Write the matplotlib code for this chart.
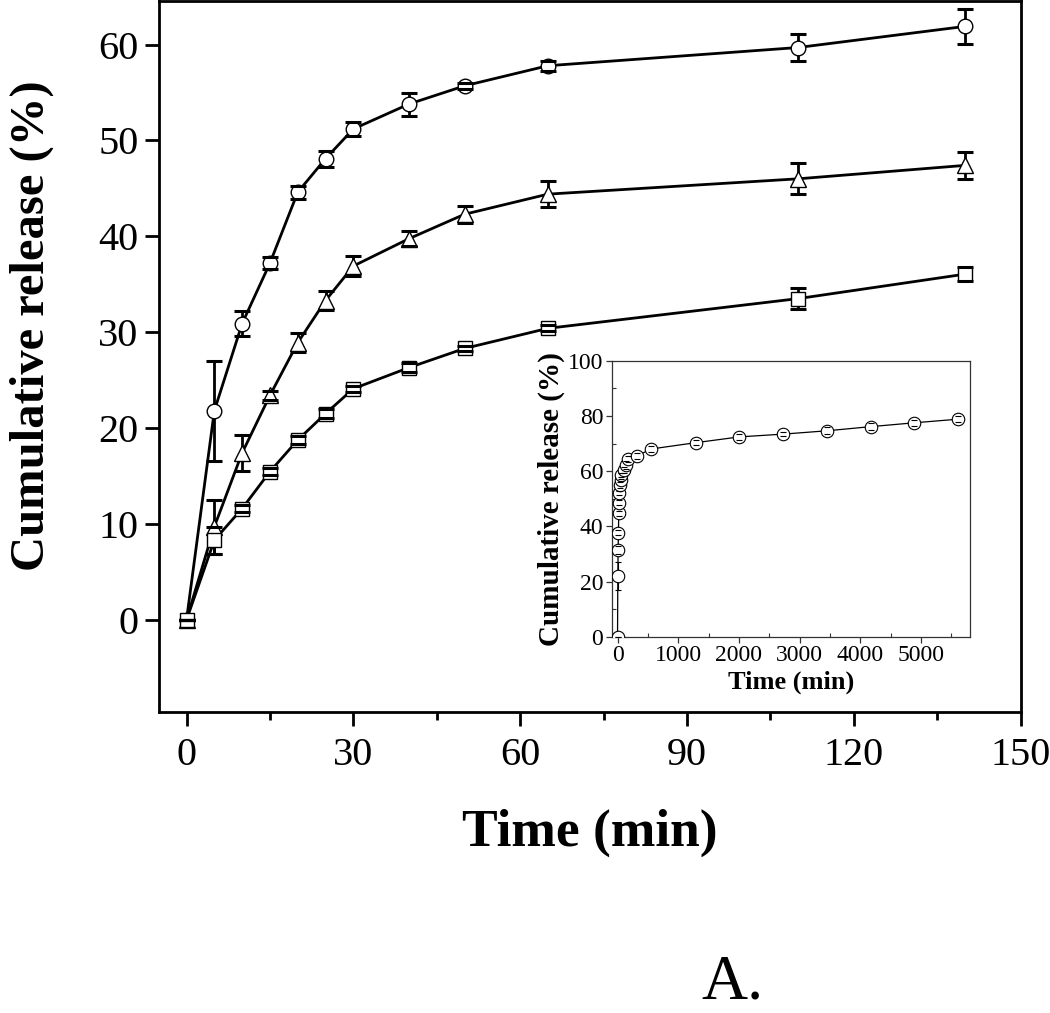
import matplotlib
matplotlib.use("Agg")
import matplotlib.pyplot as plt
from matplotlib.ticker import MultipleLocator

plt.rcParams['font.family'] = ['Liberation Serif', 'DejaVu Serif']

# ---- main panel data ----
time_min = [0, 5, 10, 15, 20, 25, 30, 40, 50, 65, 110, 140]
circle_vals = [0, 21.8, 30.9, 37.2, 44.6, 48.1, 51.2, 53.8, 55.7, 57.8, 59.7, 61.9]
circle_err = [0, 5.2, 1.35, 0.6, 0.7, 0.85, 0.75, 1.2, 0.3, 0.5, 1.45, 1.8]
triangle_vals = [0, 9.7, 17.4, 23.4, 28.9, 33.3, 36.9, 39.75, 42.3, 44.4, 46.0, 47.4]
triangle_err = [0, 2.8, 1.9, 0.5, 1.0, 0.95, 1.0, 0.8, 0.9, 1.35, 1.6, 1.4]
square_vals = [0, 8.3, 11.6, 15.45, 18.75, 21.5, 24.1, 26.3, 28.3, 30.4, 33.5, 36.05]
square_err = [0, 1.4, 0.4, 0.4, 0.4, 0.5, 0.3, 0.5, 0.3, 0.3, 1.1, 0.7]

x_ticks = [0, 30, 60, 90, 120, 150]
y_ticks = [0, 10, 20, 30, 40, 50, 60]

# ---- inset data ----
inset_time = [0, 5, 10, 15, 20, 25, 30, 40, 50, 65, 110, 140,
              180, 320, 550, 1290, 2010, 2730, 3450, 4170, 4890, 5610]
inset_vals = [0, 22.0, 31.4, 37.7, 44.7, 48.6, 52.0, 55.0, 56.8, 58.6, 60.4, 62.2,
              64.3, 65.5, 68.0, 70.3, 72.4, 73.4, 74.6, 76.1, 77.5, 78.8]
inset_err = [0, 5.2, 1.5, 1.0, 1.0, 0.8, 0.8, 1.0, 0.5, 0.6, 1.2, 1.5,
             1.0, 1.0, 1.2, 1.0, 1.0, 0.8, 1.2, 1.2, 1.0, 1.0]
inset_xticks = [0, 1000, 2000, 3000, 4000, 5000]
inset_yticks = [0, 20, 40, 60, 80, 100]

fig = plt.figure(figsize=(10.5, 10.13), dpi=100)
W, H = 1050, 1013

def px_axes(l, t, r, b):
    return [l / W, 1 - b / H, (r - l) / W, (b - t) / H]

ax = fig.add_axes(px_axes(159.3, 1.5, 1020.5, 711.7))

series = [
    (circle_vals, circle_err, 'o', 10.5),
    (triangle_vals, triangle_err, '^', 12),
    (square_vals, square_err, 's', 9.5),
]
for vals, err, mk, ms in series:
    ax.plot(time_min, vals, color='black', lw=2.0, zorder=2)
    ax.plot(time_min, vals, linestyle='none', marker=mk, ms=ms,
            mfc='white', mec='black', mew=1.0, zorder=3)
    _, caps, bars = ax.errorbar(time_min, vals, yerr=err, fmt='none',
                                ecolor='black', elinewidth=2.0,
                                capsize=5.5, capthick=2.2)
    for b in bars:
        b.set_zorder(2.5)
    for c in caps:
        c.set_zorder(4)

ax.set_xlim(-4.9, 150)
ax.set_ylim(-9.6, 64.5)
ax.set_xticks(x_ticks)
ax.set_yticks(y_ticks)
ax.xaxis.set_minor_locator(MultipleLocator(15))
for s in ax.spines.values():
    s.set_linewidth(2.0)
ax.tick_params(axis='both', which='major', direction='out', length=10, width=2.0)
ax.tick_params(axis='x', which='minor', direction='out', length=5.5, width=2.0)
ax.tick_params(axis='x', which='major', labelsize=29, pad=8)
ax.tick_params(axis='y', which='major', labelsize=29, pad=5)

fig.text(590 / W, 1 - 833 / H, 'Time (min)', fontsize=38.5, fontweight='bold',
         ha='center', va='center')
fig.text(32 / W, 1 - 326 / H, 'Cumulative release (%)', fontsize=35,
         fontweight='bold', rotation=90, ha='center', va='center')
fig.text(701 / W, 1 - 1012 / H, 'A.', fontsize=46, ha='left', va='bottom')

# ---- inset ----
axi = fig.add_axes(px_axes(611.7, 360.7, 970, 636.7))
axi.plot(inset_time, inset_vals, color='black', lw=0.9, zorder=2)
axi.plot(inset_time, inset_vals, linestyle='none', marker='o', ms=9,
         mfc='white', mec='black', mew=0.8, zorder=3)
_, caps, bars = axi.errorbar(inset_time, inset_vals, yerr=inset_err, fmt='none',
                             ecolor='black', elinewidth=0.8, capsize=2,
                             capthick=0.8)
for c in caps:
    c.set_zorder(4)
axi.set_xlim(-96, 5810)
axi.set_ylim(0, 100)
axi.set_xticks(inset_xticks)
axi.set_yticks(inset_yticks)
axi.xaxis.set_minor_locator(MultipleLocator(500))
axi.yaxis.set_minor_locator(MultipleLocator(10))
for s in axi.spines.values():
    s.set_linewidth(0.9)
    s.set_color('#333333')
axi.tick_params(axis='both', which='major', direction='out', length=4, width=0.9,
                labelsize=17, pad=2, color='#333333')
axi.tick_params(axis='both', which='minor', direction='in', length=3, width=0.8,
                color='#333333')
axi.set_xlabel('Time (min)', fontsize=19, fontweight='bold', labelpad=3)
axi.set_ylabel('Cumulative release (%)', fontsize=21, fontweight='bold', labelpad=2)

fig.savefig('out.png', dpi=100)
